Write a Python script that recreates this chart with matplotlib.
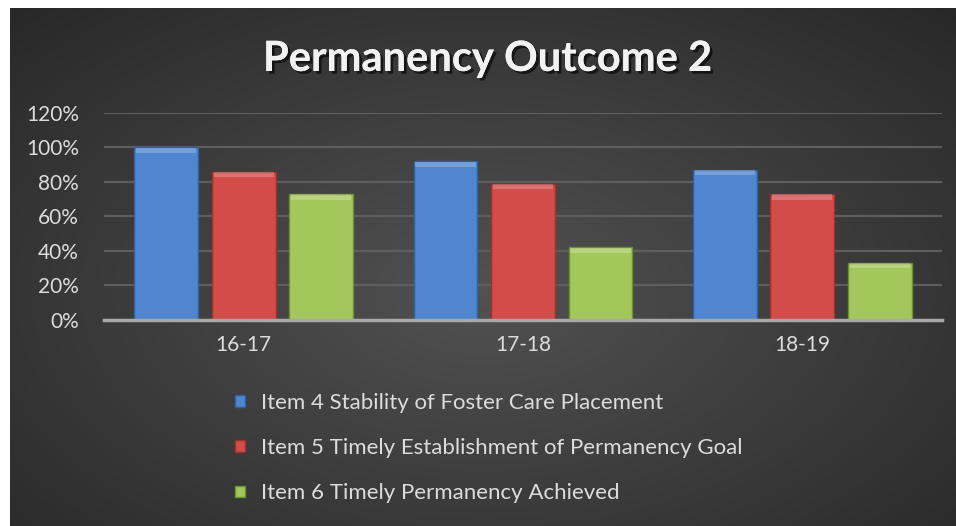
import numpy as np
import matplotlib.pyplot as plt
import matplotlib.patheffects as pe

years = ["16-17", "17-18", "18-19"]
item4 = [100, 92, 87]
item5 = [86, 79, 73]
item6 = [73, 42, 33]
labels = ["Item 4 Stability of Foster Care Placement",
          "Item 5 Timely Establishment of Permanency Goal",
          "Item 6 Timely Permanency Achieved"]
colors = ["#4f86cf", "#d24c49", "#a3c75a"]
edges = ["#2f5f9e", "#9e2f2c", "#6f8f2f"]

plt.rcParams['font.family'] = ['Lato', 'DejaVu Sans']

fig = plt.figure(figsize=(9.56, 5.26), dpi=100)
fig.patch.set_facecolor("white")

# dark radial background, offset for the white border top/left
bg = fig.add_axes([10/956, 0, 1 - 10/956, 1 - 8/526])
bg.set_axis_off()
yy, xx = np.mgrid[0:1:300j, 0:1:500j]
r = np.sqrt(((xx - 0.5) / 0.75) ** 2 + ((yy - 0.55) / 0.8) ** 2)
shade = np.clip(0.32 - 0.17 * r, 0.16, 0.33)
bg.imshow(np.dstack([shade] * 3), aspect="auto", extent=[0, 1, 0, 1],
          interpolation="bilinear")
bg.set_xlim(0, 1)
bg.set_ylim(0, 1)

ax = fig.add_axes([104/956, 1 - 319.5/526, 838/956, (319.5 - 113)/526])
ax.patch.set_alpha(0)

x = np.arange(len(years))
w = 0.229
step = 0.2775
for i, vals in enumerate([item4, item5, item6]):
    xs = x + (i - 1) * step
    ax.bar(xs, vals, w, color=colors[i], edgecolor=edges[i], linewidth=1,
           label=labels[i], zorder=3)
    # light bevel strip on top of each bar
    ax.bar(xs, [3] * len(vals), w * 0.94, bottom=[v - 3.3 for v in vals],
           color="white", alpha=0.22, linewidth=0, zorder=4)

ax.set_xlim(-0.5, 2.5)
ax.set_ylim(0, 120)
ax.set_yticks(range(0, 121, 20))
ax.set_yticklabels([f"{v}%" for v in range(0, 121, 20)])
ax.set_xticks(x)
ax.set_xticklabels(years)
ax.tick_params(length=0, colors="#dcdcdc", labelsize=15)
ax.tick_params(axis="x", pad=11)
ax.tick_params(axis="y", pad=18)
ax.grid(axis="y", color="#5e5e5e", linewidth=1.6, zorder=0)
for s in ["top", "right", "left"]:
    ax.spines[s].set_visible(False)
ax.spines["bottom"].set_color("#a8a8a8")
ax.spines["bottom"].set_linewidth(2.5)
ax.spines["bottom"].set_zorder(5)

fig.text(0.51, 0.888, "Permanency Outcome 2", ha="center", va="center",
         fontsize=30, fontweight="bold", color="#f2f2f2",
         path_effects=[pe.withSimplePatchShadow(offset=(2, -2), shadow_rgbFace="black", alpha=0.6),
                       pe.Normal()])

handles, lbls = ax.get_legend_handles_labels()
leg = fig.legend(handles, lbls, loc="upper left", bbox_to_anchor=(0.246, 1 - 393/526),
                 frameon=False, fontsize=16, labelcolor="#dcdcdc",
                 handlelength=0.42, handleheight=0.42, handletextpad=0.75,
                 labelspacing=1.13, borderpad=0, borderaxespad=0)

fig.savefig("out.png", dpi=100, facecolor=fig.get_facecolor())
